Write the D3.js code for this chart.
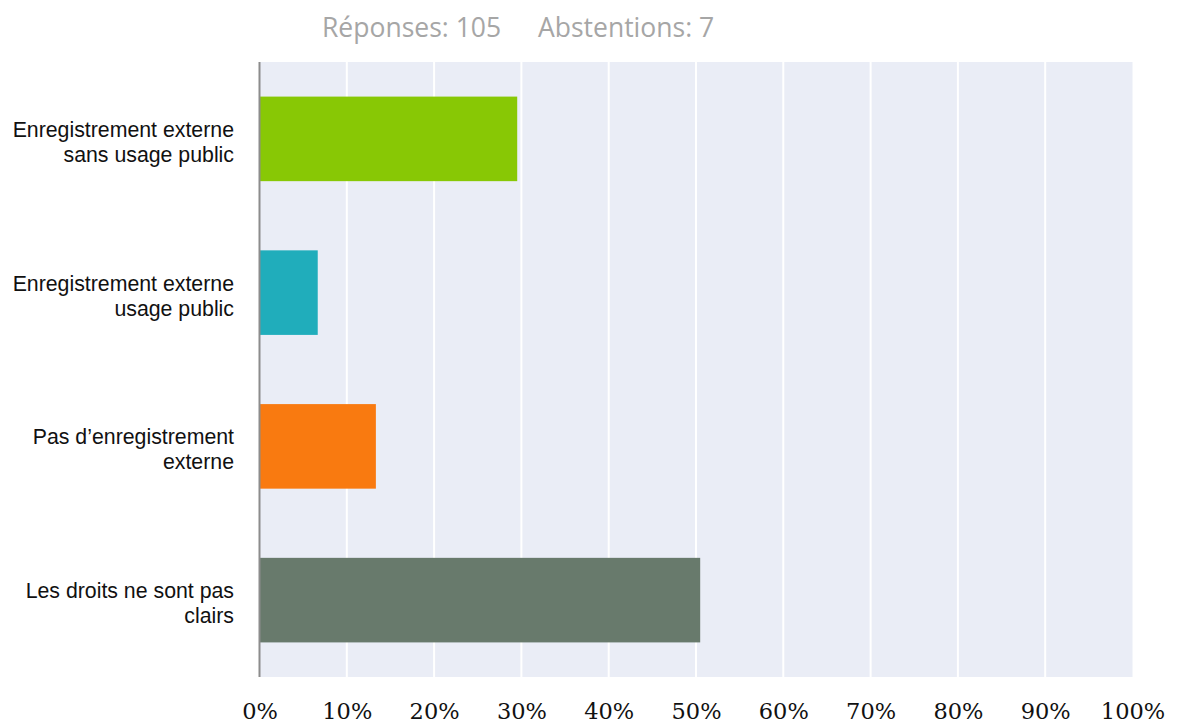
<!DOCTYPE html>
<html>
<head>
<meta charset="utf-8">
<script src="https://cdn.jsdelivr.net/npm/d3@7"></script>
<style>
  html, body { margin: 0; padding: 0; background: #ffffff; }
  svg { display: block; }
</style>
</head>
<body>
<svg id="chart" width="1177" height="725"></svg>
<script>
// ---- data ----
const categories = [
  ["Enregistrement externe", "sans usage public"],
  ["Enregistrement externe", "usage public"],
  ["Pas d\u2019enregistrement", "externe"],
  ["Les droits ne sont pas", "clairs"]
];
const values = [29.52, 6.67, 13.33, 50.48];
const colors = ["#88c805", "#20adbb", "#f97a10", "#687a6c"];
const tickValues = [0, 10, 20, 30, 40, 50, 60, 70, 80, 90, 100];
const tickLabels = ["0%", "10%", "20%", "30%", "40%", "50%", "60%", "70%", "80%", "90%", "100%"];
const headerParts = ["Réponses: 105", "Abstentions: 7"];

// ---- layout ----
const svg = d3.select("#chart");
const plot = { left: 259.5, right: 1132.5, top: 62, bottom: 677 };

const x = d3.scaleLinear().domain([0, 100]).range([plot.left, plot.right]);
const y = d3.scaleBand().domain(d3.range(categories.length))
  .range([plot.top, plot.bottom]).paddingInner(0.45).paddingOuter(0.225);

// background
svg.append("rect")
  .attr("x", plot.left).attr("y", plot.top)
  .attr("width", plot.right - plot.left).attr("height", plot.bottom - plot.top)
  .attr("fill", "#eaedf6");

// gridlines
svg.append("g").selectAll("line")
  .data(tickValues.slice(1, -1))
  .join("line")
  .attr("x1", d => x(d)).attr("x2", d => x(d))
  .attr("y1", plot.top).attr("y2", plot.bottom)
  .attr("stroke", "#ffffff").attr("stroke-width", 2);

// bars
svg.append("g").selectAll("rect")
  .data(values)
  .join("rect")
  .attr("x", x(0))
  .attr("y", (d, i) => y(i))
  .attr("width", d => x(d) - x(0))
  .attr("height", y.bandwidth())
  .attr("fill", (d, i) => colors[i]);

// left axis line
svg.append("line")
  .attr("x1", plot.left).attr("x2", plot.left)
  .attr("y1", plot.top).attr("y2", plot.bottom)
  .attr("stroke", "#8c8c8c").attr("stroke-width", 2);

// x axis tick labels (via d3 axis)
const xAxis = d3.axisBottom(x)
  .tickValues(tickValues)
  .tickFormat((d, i) => tickLabels[i])
  .tickSize(0).tickPadding(0);
const gx = svg.append("g")
  .attr("transform", `translate(0, 703)`)
  .call(xAxis);
gx.select(".domain").remove();
gx.selectAll("text")
  .attr("dy", "0.71em")
  .attr("y", 0)
  .style("font-family", "'DejaVu Serif', 'Liberation Serif', serif")
  .style("font-size", "22.5px")
  .attr("fill", "#111111");

// category labels
const catG = svg.append("g");
categories.forEach((lines, i) => {
  const cy = y(i) + y.bandwidth() / 2;
  const t = catG.append("text")
    .attr("text-anchor", "end")
    .style("font-family", "'Liberation Sans', Arial, sans-serif")
    .style("font-size", "21.3px")
    .attr("fill", "#111111");
  lines.forEach((ln, j) => {
    t.append("tspan")
      .attr("x", 234)
      .attr("y", cy - 2 + j * 25)
      .text(ln);
  });
});

// header
const hdr = svg.append("text")
  .attr("y", 37)
  .style("font-family", "'Open Sans', 'Noto Sans', sans-serif")
  .style("font-size", "26.5px")
  .attr("fill", "#a6a6a6");
hdr.append("tspan").attr("x", 322).text(headerParts[0]);
hdr.append("tspan").attr("x", 538).text(headerParts[1]);
</script>
</body>
</html>
